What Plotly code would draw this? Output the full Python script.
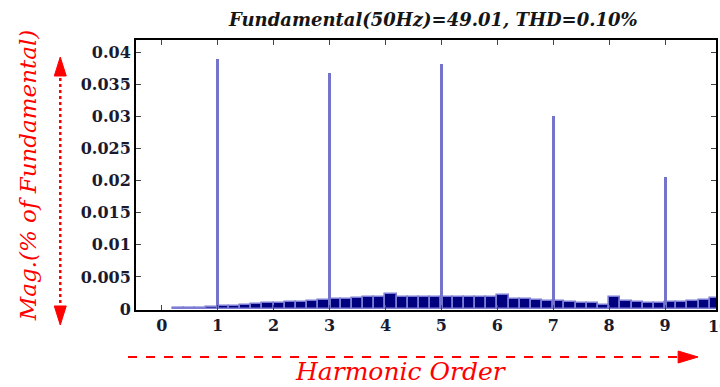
import plotly.graph_objects as go

# ---------------- data ----------------
harmonic_orders = [1, 3, 5, 7, 9]
harmonic_mag = [0.0389, 0.0367, 0.0381, 0.0300, 0.0206]

floor_x = [0.3, 0.5, 0.7, 0.9, 1.1, 1.3, 1.5, 1.7, 1.9, 2.1, 2.3, 2.5, 2.7, 2.9,
           3.1, 3.3, 3.5, 3.7, 3.9, 4.1, 4.3, 4.5, 4.7, 4.9, 5.1, 5.3, 5.5, 5.7,
           5.9, 6.1, 6.3, 6.5, 6.7, 6.9, 7.1, 7.3, 7.5, 7.7, 7.9, 8.1, 8.3, 8.5,
           8.7, 8.9, 9.1, 9.3, 9.5, 9.7, 9.9]
floor_y = [0.00010, 0.00015, 0.00020, 0.00030, 0.00045, 0.00055, 0.00065, 0.00080,
           0.00095, 0.00100, 0.00105, 0.00115, 0.00125, 0.00140, 0.00150, 0.00160,
           0.00170, 0.00180, 0.00190, 0.00230, 0.00180, 0.00185, 0.00190, 0.00190,
           0.00190, 0.00185, 0.00185, 0.00180, 0.00180, 0.00220, 0.00160, 0.00150,
           0.00140, 0.00130, 0.00120, 0.00110, 0.00100, 0.00090, 0.00070, 0.00180,
           0.00120, 0.00110, 0.00100, 0.00100, 0.00105, 0.00110, 0.00125, 0.00140,
           0.00170]

x_ticks = [0, 1, 2, 3, 4, 5, 6, 7, 8, 9]
y_ticks = [0, 0.005, 0.01, 0.015, 0.02, 0.025, 0.03, 0.035, 0.04]
y_tick_text = ["0", "0.005", "0.01", "0.015", "0.02", "0.025", "0.03", "0.035", "0.04"]

title_text = "Fundamental(50Hz)=49.01, THD=0.10%"
y_label = "Mag.(% of Fundamental)"
x_label = "Harmonic Order"

# ---------------- layout geometry ----------------
W, H = 720, 387
L, R, T, B = 136, 718, 40, 310  # plot area in pixels
SERIF = "DejaVu Serif"


def px(xp):
    return (xp - L) / (R - L)


def py(yp):
    return (B - yp) / (B - T)


fig = go.Figure()
fig.add_trace(go.Bar(
    x=floor_x, y=floor_y, width=0.2,
    marker=dict(color="#00007f", line=dict(color="#7c7cd4", width=1.6)),
    hoverinfo="skip", showlegend=False))
fig.add_trace(go.Bar(
    x=harmonic_orders, y=harmonic_mag, width=0.05,
    marker=dict(color="#7474cc", line=dict(width=0)),
    showlegend=False))

tickfont = dict(family=SERIF, size=16, color="#1a1a2e")

fig.update_layout(
    width=W, height=H,
    margin=dict(l=L, r=W - R, t=T, b=H - B, pad=0),
    paper_bgcolor="white", plot_bgcolor="white",
    barmode="overlay", bargap=0,
    showlegend=False,
    font=dict(family=SERIF),
    xaxis=dict(range=[-0.46, 9.91], tickvals=x_ticks,
               ticktext=["<b>%d</b>" % v for v in x_ticks],
               ticks="inside", ticklen=5, tickcolor="#444", tickwidth=1,
               showline=True, linecolor="black", linewidth=2, mirror="ticks",
               showgrid=False, zeroline=False, tickfont=tickfont),
    yaxis=dict(range=[-0.00015, 0.0419], tickvals=y_ticks,
               ticktext=["<b>%s</b>" % t for t in y_tick_text],
               ticks="inside", ticklen=5, tickcolor="#444", tickwidth=1,
               showline=True, linecolor="black", linewidth=2, mirror="ticks",
               showgrid=False, zeroline=False, tickfont=tickfont),
)

red = "#ff0000"
annotations = [
    dict(text="<b><i>%s</i></b>" % title_text, x=px(434), y=py(20), xref="paper", yref="paper",
         showarrow=False, xanchor="center", yanchor="middle",
         font=dict(family=SERIF, size=18, color="#151515")),
    dict(text="<i>%s</i>" % y_label, x=px(28), y=py(175), xref="paper", yref="paper",
         showarrow=False, textangle=-90, xanchor="center", yanchor="middle",
         font=dict(family=SERIF, size=23, color=red)),
    dict(text="<i>%s</i>" % x_label, x=px(402), y=py(371), xref="paper", yref="paper",
         showarrow=False, xanchor="center", yanchor="middle",
         font=dict(family=SERIF, size=25, color=red)),
    dict(text="<b>10</b>", x=px(721), y=py(326), xref="paper", yref="paper",
         showarrow=False, xanchor="center", yanchor="middle",
         font=tickfont),
]
fig.update_layout(annotations=annotations)

shapes = [
    # vertical dotted arrow
    dict(type="line", xref="paper", yref="paper", x0=px(60), x1=px(60), y0=py(72), y1=py(310),
         line=dict(color=red, width=2.5, dash="dot")),
    dict(type="path", xref="paper", yref="paper",
         path="M %f %f L %f %f L %f %f Z" % (px(60), py(57), px(54), py(76), px(66), py(76)),
         fillcolor=red, line=dict(color=red, width=1)),
    dict(type="path", xref="paper", yref="paper",
         path="M %f %f L %f %f L %f %f Z" % (px(60), py(325), px(54), py(306), px(66), py(306)),
         fillcolor=red, line=dict(color=red, width=1)),
    # horizontal dashed arrow
    dict(type="line", xref="paper", yref="paper", x0=px(128), x1=px(684), y0=py(357), y1=py(357),
         line=dict(color=red, width=2, dash="dash")),
    dict(type="path", xref="paper", yref="paper",
         path="M %f %f L %f %f L %f %f Z" % (px(700), py(357), px(680), py(351), px(680), py(363)),
         fillcolor=red, line=dict(color=red, width=1)),
]
fig.update_layout(shapes=shapes)

fig.write_html("out.html", config={"displayModeBar": False})
